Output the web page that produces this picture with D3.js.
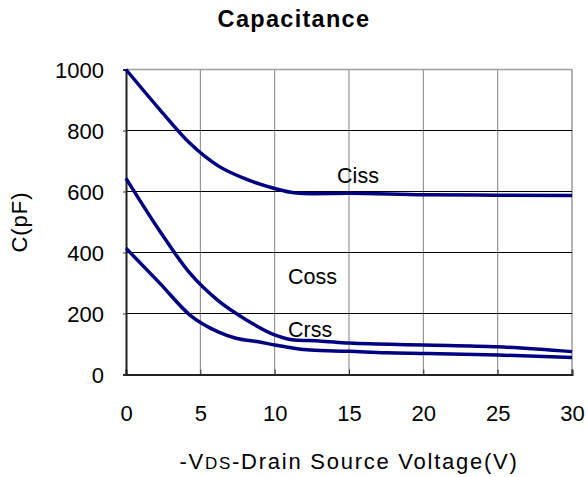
<!DOCTYPE html>
<html>
<head>
<meta charset="utf-8">
<script src="https://cdn.jsdelivr.net/npm/d3@7"></script>
<style>
  body { margin: 0; background: #fff; }
  svg { display: block; font-family: "Liberation Sans", Arial, sans-serif; }
</style>
</head>
<body>
<script>
// curve data (V, pF)
const cissV = [0, 2.3, 4.3, 6.2, 8, 10, 11.3, 12.5, 15, 20, 25, 30];
const cissC = [1000, 867, 758, 684, 642, 610, 596, 593, 594, 589, 588, 587];

const cossV = [0, 2.3, 4.3, 6.2, 8.1, 10, 11.3, 13, 15, 20, 25, 30];
const cossC = [643, 468, 332, 242, 179, 130, 113, 110, 103, 97, 91, 75];

const crssV = [0, 2.3, 4.3, 6.2, 7.4, 8.8, 10, 11.3, 12.4, 15, 17.5, 20, 25, 30];
const crssC = [414, 298, 195, 140, 119, 108, 97, 86, 80, 76, 71, 69, 64, 56];

const xTicks = [0, 5, 10, 15, 20, 25, 30];
const yTicks = [0, 200, 400, 600, 800, 1000];

const seriesNames = ["Ciss", "Coss", "Crss"];
const labelAt = [[14.2, 627], [10.9, 297], [10.9, 124]];

const width = 588, height = 477;
const margin = {top: 69.5, right: 16, bottom: 102.5, left: 126};

const svg = d3.select("body").append("svg")
    .attr("width", width)
    .attr("height", height);

const x = d3.scaleLinear()
    .domain([0, 30])
    .range([margin.left, width - margin.right]);

const y = d3.scaleLinear()
    .domain([0, 1000])
    .range([height - margin.bottom, margin.top]);

// grid
svg.append("g")
    .selectAll("line")
    .data(xTicks.slice(1))
    .enter()
    .append("line")
    .attr("x1", d => x(d)).attr("x2", d => x(d))
    .attr("y1", y(0)).attr("y2", y(1000))
    .attr("stroke", d => d === 30 ? "#999" : "#808080")
    .attr("stroke-width", d => d === 30 ? 1.5 : 1);

svg.append("g")
    .selectAll("line")
    .data(yTicks.slice(1))
    .enter()
    .append("line")
    .attr("x1", x(0)).attr("x2", x(30))
    .attr("y1", d => y(d)).attr("y2", d => y(d))
    .attr("stroke", d => d === 1000 ? "#a0a0a0" : "#000")
    .attr("stroke-width", d => d === 1000 ? 1.5 : 1);

// axes
const xAxis = svg.append("g")
    .attr("transform", `translate(0,${y(0)})`)
    .call(d3.axisBottom(x).tickValues(xTicks).tickFormat(d3.format("d"))
        .tickSize(-5).tickPadding(31));

const yAxis = svg.append("g")
    .attr("transform", `translate(${x(0)},0)`)
    .call(d3.axisLeft(y).tickValues(yTicks).tickFormat(d3.format("d"))
        .tickSize(3).tickPadding(19));

[xAxis, yAxis].forEach(g => {
    g.select(".domain").attr("stroke", "#222").attr("stroke-width", 2);
    g.selectAll(".tick line").attr("stroke", "#333");
    g.selectAll("text")
        .attr("fill", "#000")
        .style("font-size", "22px")
        .style("font-family", "'Liberation Sans', Arial, sans-serif");
});
xAxis.selectAll("text").attr("dy", "0.71em");
yAxis.selectAll("text").attr("dy", "0.36em");

// curves
const line = d3.line()
    .x(d => x(d[0]))
    .y(d => y(d[1]))
    .curve(d3.curveMonotoneX);

const series = [
    d3.zip(cissV, cissC),
    d3.zip(cossV, cossC),
    d3.zip(crssV, crssC)
];

svg.append("g")
    .selectAll("path")
    .data(series)
    .enter()
    .append("path")
    .attr("d", line)
    .attr("fill", "none")
    .attr("stroke", "#000080")
    .attr("stroke-width", 3.5)
    .attr("stroke-linejoin", "round");

// series labels
svg.append("g")
    .selectAll("text")
    .data(seriesNames)
    .enter()
    .append("text")
    .attr("x", (d, i) => x(labelAt[i][0]))
    .attr("y", (d, i) => y(labelAt[i][1]))
    .style("font-size", "21.5px")
    .text(d => d);

// titles
svg.append("text")
    .attr("x", width / 2)
    .attr("y", 27)
    .attr("text-anchor", "middle")
    .style("font-size", "23.5px")
    .style("font-weight", "bold")
    .style("letter-spacing", "1.3px")
    .text("Capacitance");

svg.append("text")
    .attr("transform", `translate(27,${(y(0) + y(1000)) / 2}) rotate(-90)`)
    .attr("text-anchor", "middle")
    .style("font-size", "22px")
    .style("letter-spacing", "1px")
    .text("C(pF)");

const xt = svg.append("text")
    .attr("x", (x(0) + x(30)) / 2)
    .attr("y", 469)
    .attr("text-anchor", "middle")
    .style("font-size", "22px")
    .style("letter-spacing", "1.75px");
xt.append("tspan").text("-V");
xt.append("tspan").style("font-size", "17px").text("DS");
xt.append("tspan").text("-Drain Source Voltage(V)");
</script>
</body>
</html>
